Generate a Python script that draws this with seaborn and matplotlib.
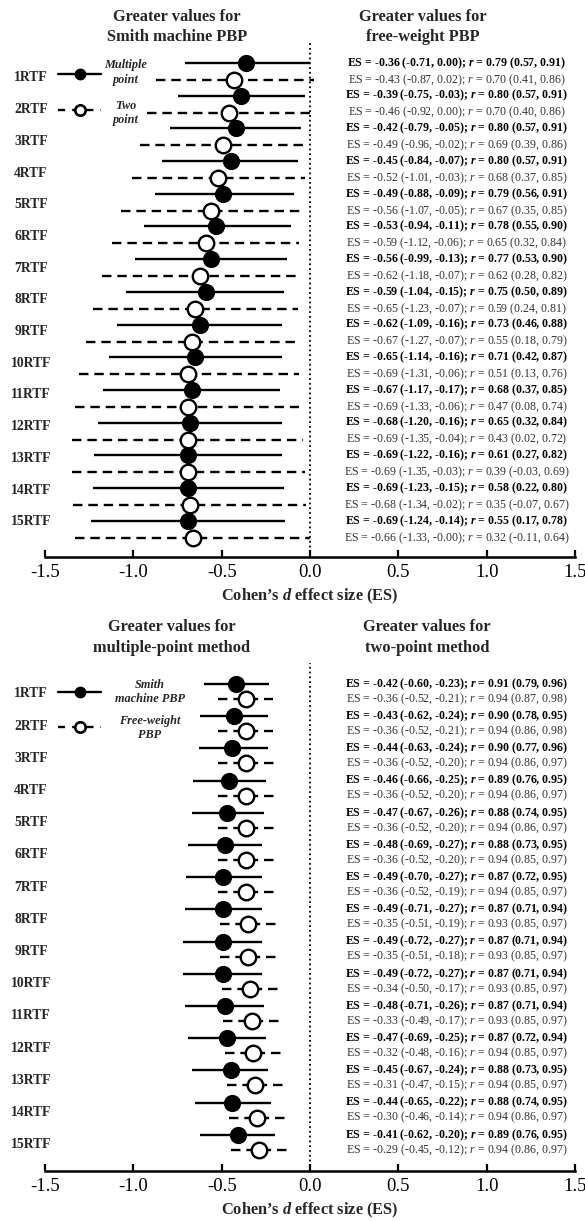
import numpy as np
import pandas as pd
import matplotlib
matplotlib.use("Agg")
import matplotlib.pyplot as plt
import seaborn as sns

# ---------------- data ----------------
rtf_labels = [f"{i}RTF" for i in range(1, 16)]

# Panel A: Smith machine vs free-weight PBP
a_multi_es = [-0.36, -0.39, -0.42, -0.45, -0.49, -0.53, -0.56, -0.59, -0.62, -0.65, -0.67, -0.68, -0.69, -0.69, -0.69]
a_multi_lo = [-0.71, -0.75, -0.79, -0.84, -0.88, -0.94, -0.99, -1.04, -1.09, -1.14, -1.17, -1.20, -1.22, -1.23, -1.24]
a_multi_hi = [0.00, -0.03, -0.05, -0.07, -0.09, -0.11, -0.13, -0.15, -0.16, -0.16, -0.17, -0.16, -0.16, -0.15, -0.14]
a_multi_r = [0.79, 0.80, 0.80, 0.80, 0.79, 0.78, 0.77, 0.75, 0.73, 0.71, 0.68, 0.65, 0.61, 0.58, 0.55]
a_multi_rlo = [0.57, 0.57, 0.57, 0.57, 0.56, 0.55, 0.53, 0.50, 0.46, 0.42, 0.37, 0.32, 0.27, 0.22, 0.17]
a_multi_rhi = [0.91, 0.91, 0.91, 0.91, 0.91, 0.90, 0.90, 0.89, 0.88, 0.87, 0.85, 0.84, 0.82, 0.80, 0.78]

a_two_es = [-0.43, -0.46, -0.49, -0.52, -0.56, -0.59, -0.62, -0.65, -0.67, -0.69, -0.69, -0.69, -0.69, -0.68, -0.66]
a_two_lo = [-0.87, -0.92, -0.96, -1.01, -1.07, -1.12, -1.18, -1.23, -1.27, -1.31, -1.33, -1.35, -1.35, -1.34, -1.33]
a_two_hi = [0.02, 0.00, -0.02, -0.03, -0.05, -0.06, -0.07, -0.07, -0.07, -0.06, -0.06, -0.04, -0.03, -0.02, -0.0]
a_two_r = [0.70, 0.70, 0.69, 0.68, 0.67, 0.65, 0.62, 0.59, 0.55, 0.51, 0.47, 0.43, 0.39, 0.35, 0.32]
a_two_rlo = [0.41, 0.40, 0.39, 0.37, 0.35, 0.32, 0.28, 0.24, 0.18, 0.13, 0.08, 0.02, -0.03, -0.07, -0.11]
a_two_rhi = [0.86, 0.86, 0.86, 0.85, 0.85, 0.84, 0.82, 0.81, 0.79, 0.76, 0.74, 0.72, 0.69, 0.67, 0.64]

# Panel B: multiple-point vs two-point method
b_smith_es = [-0.42, -0.43, -0.44, -0.46, -0.47, -0.48, -0.49, -0.49, -0.49, -0.49, -0.48, -0.47, -0.45, -0.44, -0.41]
b_smith_lo = [-0.60, -0.62, -0.63, -0.66, -0.67, -0.69, -0.70, -0.71, -0.72, -0.72, -0.71, -0.69, -0.67, -0.65, -0.62]
b_smith_hi = [-0.23, -0.24, -0.24, -0.25, -0.26, -0.27, -0.27, -0.27, -0.27, -0.27, -0.26, -0.25, -0.24, -0.22, -0.20]
b_smith_r = [0.91, 0.90, 0.90, 0.89, 0.88, 0.88, 0.87, 0.87, 0.87, 0.87, 0.87, 0.87, 0.88, 0.88, 0.89]
b_smith_rlo = [0.79, 0.78, 0.77, 0.76, 0.74, 0.73, 0.72, 0.71, 0.71, 0.71, 0.71, 0.72, 0.73, 0.74, 0.76]
b_smith_rhi = [0.96, 0.95, 0.96, 0.95, 0.95, 0.95, 0.95, 0.94, 0.94, 0.94, 0.94, 0.94, 0.95, 0.95, 0.95]

b_free_es = [-0.36, -0.36, -0.36, -0.36, -0.36, -0.36, -0.36, -0.35, -0.35, -0.34, -0.33, -0.32, -0.31, -0.30, -0.29]
b_free_lo = [-0.52, -0.52, -0.52, -0.52, -0.52, -0.52, -0.52, -0.51, -0.51, -0.50, -0.49, -0.48, -0.47, -0.46, -0.45]
b_free_hi = [-0.21, -0.21, -0.20, -0.20, -0.20, -0.20, -0.19, -0.19, -0.18, -0.17, -0.17, -0.16, -0.15, -0.14, -0.12]
b_free_r = [0.94, 0.94, 0.94, 0.94, 0.94, 0.94, 0.94, 0.93, 0.93, 0.93, 0.93, 0.94, 0.94, 0.94, 0.94]
b_free_rlo = [0.87, 0.86, 0.86, 0.86, 0.86, 0.85, 0.85, 0.85, 0.85, 0.85, 0.85, 0.85, 0.85, 0.86, 0.86]
b_free_rhi = [0.98, 0.98, 0.97, 0.97, 0.97, 0.97, 0.97, 0.97, 0.97, 0.97, 0.97, 0.97, 0.97, 0.97, 0.97]

x_ticks = [-1.5, -1.0, -0.5, 0.0, 0.5, 1.0, 1.5]

# ---------------- style ----------------
sns.set_theme(style="white")
SERIF = ["Liberation Serif", "DejaVu Serif"]
plt.rcParams["font.family"] = SERIF
plt.rcParams["axes.unicode_minus"] = False
plt.rcParams["mathtext.fontset"] = "custom"
plt.rcParams["mathtext.rm"] = "Liberation Serif"
plt.rcParams["mathtext.it"] = "Liberation Serif:italic"
plt.rcParams["mathtext.bf"] = "Liberation Serif:bold"
plt.rcParams["mathtext.bfit"] = "Liberation Serif:bold:italic"

W, H = 585, 1221
fig = plt.figure(figsize=(W / 100, H / 100), dpi=100)

X_L, X_R = 45, 575  # pixel positions of -1.5 and 1.5


def make_ax(top_px, bot_px):
    return fig.add_axes([X_L / W, 1 - bot_px / H, (X_R - X_L) / W, (bot_px - top_px) / H])


def fmt(v):
    return f"{v:.2f}"


def ann(es, lo, hi, r, rlo, rhi, bold):
    rr = r"$\mathbfit{r}$" if bold else r"$\mathit{r}$"
    return (f"ES = {fmt(es)} ({fmt(lo)}, {fmt(hi)}); {rr} = {fmt(r)} "
            f"({fmt(rlo)}, {fmt(rhi)})")


def panel(ax, top_px, bot_px, f0_px, pitch, open_off, lab_px0, lab_pitch,
          s1, s2, head_left, head_right, head_y, head_xl, head_xr,
          leg_y1, leg_y2, leg_txt1, leg_txt2, leg_tx):
    def py(px):
        return (px - f0_px) / pitch

    def px_x(px):
        return -1.5 + (px - X_L) / (X_R - X_L) * 3.0

    rows = np.arange(15)
    y1 = rows.astype(float)
    y2 = rows + open_off / pitch

    es1, lo1, hi1, r1, rl1, rh1 = s1
    es2, lo2, hi2, r2, rl2, rh2 = s2

    # CI lines
    ax.hlines(y1, lo1, hi1, color="black", lw=1.7, zorder=2)
    ax.hlines(y2, lo2, hi2, color="black", lw=1.7, linestyles=(0, (4, 2.5)), zorder=2)

    df1 = pd.DataFrame({"es": es1, "y": y1})
    df2 = pd.DataFrame({"es": es2, "y": y2})
    sns.scatterplot(data=df1, x="es", y="y", ax=ax, s=125, color="black",
                    edgecolor="black", linewidth=1.2, zorder=4, legend=False)
    sns.scatterplot(data=df2, x="es", y="y", ax=ax, s=125, facecolor="white",
                    edgecolor="black", linewidth=1.7, zorder=4, legend=False)

    ax.axvline(0, color="black", ls=":", lw=1.3, zorder=1)

    # annotations
    for i in rows:
        ax.text(0.83, y1[i], ann(es1[i], lo1[i], hi1[i], r1[i], rl1[i], rh1[i], True),
                ha="center", va="center", fontsize=8.6, fontweight="bold", color="black")
        ax.text(0.83, y2[i], ann(es2[i], lo2[i], hi2[i], r2[i], rl2[i], rh2[i], False),
                ha="center", va="center", fontsize=8.6, color="#333333")

    # row labels
    for i, lab in enumerate(rtf_labels):
        ax.text(px_x(31), py(lab_px0 + i * lab_pitch), lab, ha="center", va="center",
                fontsize=9.8, fontweight="bold", clip_on=False)

    # headers
    for k, line in enumerate(head_left):
        ax.text(px_x(head_xl), py(head_y[k]), line, ha="center", va="center",
                fontsize=11.8, fontweight="bold", clip_on=False)
    for k, line in enumerate(head_right):
        ax.text(px_x(head_xr), py(head_y[k]), line, ha="center", va="center",
                fontsize=11.8, fontweight="bold", clip_on=False)

    # in-plot legend
    lx0, lx1, lxm = px_x(58), px_x(101), px_x(80)
    yy1, yy2 = py(leg_y1), py(leg_y2)
    ax.plot([lx0, lx1], [yy1, yy1], color="black", lw=1.7, clip_on=False)
    ax.plot([lxm], [yy1], marker="o", ms=7.5, mfc="black", mec="black", clip_on=False)
    ax.plot([lx0, lx1], [yy2, yy2], color="black", lw=1.7, ls=(0, (3, 3)), clip_on=False)
    ax.plot([lxm], [yy2], marker="o", ms=7.5, mfc="white", mec="black", mew=1.9,
            clip_on=False, zorder=5)
    for (txt, ty) in leg_txt1 + leg_txt2:
        ax.text(px_x(leg_tx), py(ty), txt, ha="center", va="center", fontsize=8.8,
                fontweight="bold", fontstyle="italic", clip_on=False)

    # axes cosmetics
    ax.set_xlim(-1.5, 1.5)
    ax.set_ylim(py(bot_px), py(top_px))
    ax.set_yticks([])
    ax.set_ylabel("")
    for sp in ["top", "right", "left"]:
        ax.spines[sp].set_visible(False)
    ax.spines["bottom"].set_linewidth(1.8)
    ax.spines["bottom"].set_color("black")
    ax.set_xticks(x_ticks)
    ax.set_xticklabels([f"{t:.1f}" for t in x_ticks])
    ax.tick_params(axis="x", direction="in", length=5, width=1.6, labelsize=13.5,
                   pad=5, colors="black", bottom=True)
    ax.set_xlabel("Cohen’s $\\mathbfit{d}$ effect size (ES)", fontsize=11.8,
                  fontweight="bold", labelpad=4)


ax1 = make_ax(43, 557)
panel(ax1, 43, 557, 63, 32.7, 17, 78, 31.7,
      (a_multi_es, a_multi_lo, a_multi_hi, a_multi_r, a_multi_rlo, a_multi_rhi),
      (a_two_es, a_two_lo, a_two_hi, a_two_r, a_two_rlo, a_two_rhi),
      ["Greater values for", "Smith machine PBP"],
      ["Greater values for", "free-weight PBP"],
      [17, 37], 177, 423,
      74, 110,
      [("Multiple", 65), ("point", 80)],
      [("Two", 106), ("point", 120)], 126)

ax2 = make_ax(663, 1171)
panel(ax2, 663, 1171, 684, 32.2, 15, 694, 32.2,
      (b_smith_es, b_smith_lo, b_smith_hi, b_smith_r, b_smith_rlo, b_smith_rhi),
      (b_free_es, b_free_lo, b_free_hi, b_free_r, b_free_rlo, b_free_rhi),
      ["Greater values for", "multiple-point method"],
      ["Greater values for", "two-point method"],
      [627, 648], 172, 427,
      692, 727,
      [("Smith", 685), ("machine PBP", 699)],
      [("Free-weight", 721), ("PBP", 735)], 150)

fig.savefig("out.png", dpi=100)
